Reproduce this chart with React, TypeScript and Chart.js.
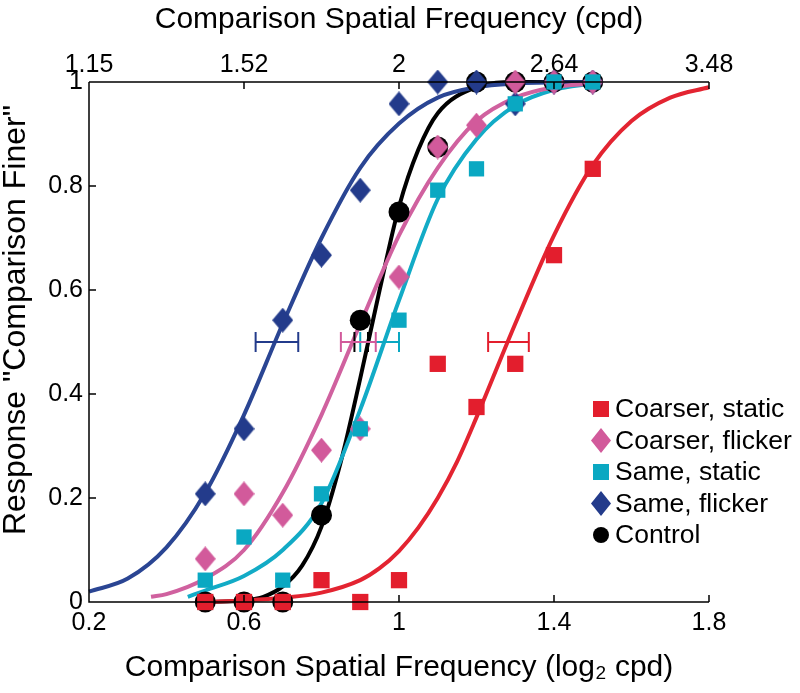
import React, { useEffect, useRef } from 'react';
import { Chart, registerables } from 'chart.js';

Chart.register(...registerables);

// comparison levels (log2 cpd)
const levels = [0.5, 0.6, 0.7, 0.8, 0.9, 1.0, 1.1, 1.2, 1.3, 1.4, 1.5];

// proportion "comparison finer" per condition
const coarserStatic = [0, 0, 0, 0.042, 0, 0.042, 0.458, 0.375, 0.458, 0.667, 0.833];
const coarserFlicker = [0.083, 0.208, 0.167, 0.292, 0.333, 0.625, 0.875, 0.917, 1, 1, 1];
const sameStatic = [0.042, 0.125, 0.042, 0.208, 0.333, 0.542, 0.792, 0.833, 0.958, 1, 1];
const sameFlicker = [0.208, 0.333, 0.542, 0.667, 0.792, 0.958, 1, 1, 0.958, 1, 1];
const control = [0, 0, 0, 0.167, 0.542, 0.75, 0.875, 1, 1, 1, 1];

// fitted psychometric curves
const coarserStaticFitX = [0.5, 0.6, 0.7, 0.8, 0.9, 0.95, 1.0, 1.05, 1.1, 1.15, 1.2, 1.3, 1.4, 1.5, 1.6, 1.7, 1.8];
const coarserStaticFitY = [0, 0.003, 0.008, 0.018, 0.042, 0.065, 0.098, 0.143, 0.2, 0.27, 0.355, 0.535, 0.705, 0.84, 0.925, 0.97, 0.99];
const coarserFlickerFitX = [0.36, 0.4, 0.5, 0.6, 0.7, 0.8, 0.9, 1.0, 1.1, 1.2, 1.3, 1.4, 1.5];
const coarserFlickerFitY = [0.01, 0.015, 0.045, 0.1, 0.21, 0.36, 0.535, 0.705, 0.835, 0.925, 0.97, 0.99, 0.997];
const sameStaticFitX = [0.455, 0.5, 0.6, 0.7, 0.8, 0.9, 1.0, 1.1, 1.2, 1.3, 1.4, 1.5];
const sameStaticFitY = [0.01, 0.022, 0.05, 0.1, 0.19, 0.37, 0.58, 0.775, 0.89, 0.955, 0.985, 0.997];
const sameFlickerFitX = [0.2, 0.3, 0.4, 0.5, 0.6, 0.7, 0.8, 0.9, 1.0, 1.1, 1.2, 1.3, 1.5];
const sameFlickerFitY = [0.02, 0.045, 0.105, 0.21, 0.36, 0.535, 0.7, 0.835, 0.92, 0.97, 0.99, 0.997, 1.0];
const controlFitX = [0.5, 0.6, 0.65, 0.7, 0.75, 0.8, 0.85, 0.9, 0.95, 1.0, 1.05, 1.1, 1.2, 1.3, 1.5];
const controlFitY = [0, 0.003, 0.01, 0.03, 0.07, 0.145, 0.27, 0.43, 0.6, 0.76, 0.87, 0.94, 0.99, 1.0, 1.0];

// 50% thresholds with confidence intervals (same order as the legend)
const thresholdLevel = 0.5;
const thresholdLo = [1.23, 0.85, 0.9, 0.63, 0.885];
const thresholdHi = [1.335, 0.94, 1.0, 0.74, 0.92];

// axes
const xTickValues = [0.2, 0.6, 1.0, 1.4, 1.8];
const xTickLabels = ['0.2', '0.6', '1', '1.4', '1.8'];
const topTickLabels = ['1.15', '1.52', '2', '2.64', '3.48'];
const yTickValues = [0, 0.2, 0.4, 0.6, 0.8, 1];
const yTickLabels = ['0', '0.2', '0.4', '0.6', '0.8', '1'];
const yTitle = 'Response "Comparison Finer"';

const seriesNames = ['Coarser, static', 'Coarser, flicker', 'Same, static', 'Same, flicker', 'Control'];
const seriesColors = ['#e31e2d', '#d25a9b', '#0aa8c2', '#233b8b', '#000000'];
const curveColors = ['#e32431', '#d0619f', '#12abc6', '#2a4593', '#000000'];
const seriesShapes = ['square', 'diamond', 'square', 'diamond', 'circle'];

const FONT = "'Liberation Sans', Arial, Helvetica, sans-serif";

function makeDiamond(color: string, w: number, h: number) {
  const c = document.createElement('canvas');
  c.width = w;
  c.height = h;
  const g = c.getContext('2d')!;
  g.fillStyle = color;
  g.beginPath();
  g.moveTo(w / 2, 0);
  g.lineTo(w, h / 2);
  g.lineTo(w / 2, h);
  g.lineTo(0, h / 2);
  g.closePath();
  g.fill();
  return c;
}

// matlab style box: axis lines and inward ticks drawn over the markers
const axesPlugin = {
  id: 'matlabAxes',
  afterDatasetsDraw(chart: any) {
    const { ctx, chartArea: a, scales } = chart;
    const len = 7;
    ctx.save();
    ctx.strokeStyle = '#000';
    ctx.lineWidth = 1.5;
    ctx.beginPath();
    ctx.moveTo(a.left, a.top);
    ctx.lineTo(a.left, a.bottom);
    ctx.lineTo(a.right, a.bottom);
    ctx.moveTo(a.left, a.top);
    ctx.lineTo(a.right, a.top);
    scales.x.ticks.forEach((t: any) => {
      const px = scales.x.getPixelForValue(t.value);
      ctx.moveTo(px, a.bottom);
      ctx.lineTo(px, a.bottom - len);
    });
    scales.xTop.ticks.forEach((t: any) => {
      const px = scales.xTop.getPixelForValue(t.value);
      ctx.moveTo(px, a.top);
      ctx.lineTo(px, a.top + len);
    });
    scales.y.ticks.forEach((t: any) => {
      const py = scales.y.getPixelForValue(t.value);
      ctx.moveTo(a.left, py);
      ctx.lineTo(a.left + len, py);
    });
    ctx.stroke();

    // y title sits a little above the axis centre in the original
    ctx.translate(16, (a.top + a.bottom) / 2 - 22);
    ctx.rotate(-Math.PI / 2);
    ctx.fillStyle = '#000';
    ctx.font = `32px ${FONT}`;
    ctx.textAlign = 'center';
    ctx.textBaseline = 'middle';
    ctx.fillText(yTitle, 0, 0);
    ctx.restore();
  },
};

const LegendMarker: React.FC<{ shape: string; color: string }> = ({ shape, color }) => {
  if (shape === 'diamond') {
    return (
      <svg width={20} height={25} style={{ display: 'block' }}>
        <polygon points="10,0 20,12.5 10,25 0,12.5" fill={color} />
      </svg>
    );
  }
  if (shape === 'circle') {
    return <div style={{ width: 16, height: 16, borderRadius: 8, background: color }} />;
  }
  return <div style={{ width: 16, height: 16, background: color }} />;
};

export default function App() {
  const canvasRef = useRef<HTMLCanvasElement | null>(null);

  useEffect(() => {
    if (!canvasRef.current) return;

    const pts = (ys: number[]) => levels.map((x, i) => ({ x, y: ys[i] }));
    const curve = (xs: number[], ys: number[]) => xs.map((x, i) => ({ x, y: ys[i] }));

    const values = [coarserStatic, coarserFlicker, sameStatic, sameFlicker, control];
    const fits = [
      [coarserStaticFitX, coarserStaticFitY],
      [coarserFlickerFitX, coarserFlickerFitY],
      [sameStaticFitX, sameStaticFitY],
      [sameFlickerFitX, sameFlickerFitY],
      [controlFitX, controlFitY],
    ];
    const squareRadius = [11.5, 0, 10.8, 0, 0];
    const markerOrder = [1, 3, 2, 4, 5];

    const markerSets = values.map((v, i) => {
      const shape = seriesShapes[i];
      const style =
        shape === 'diamond' ? makeDiamond(seriesColors[i], 21, 25) : shape === 'circle' ? 'circle' : 'rect';
      return {
        label: seriesNames[i],
        data: pts(v),
        xAxisID: 'x',
        yAxisID: 'y',
        showLine: false,
        pointStyle: style,
        pointRadius: shape === 'circle' ? 10.5 : shape === 'square' ? squareRadius[i] : 12,
        pointBackgroundColor: seriesColors[i],
        pointBorderWidth: 0,
        pointBorderColor: seriesColors[i],
        clip: false,
        order: markerOrder[i],
      };
    });

    const errorSets = thresholdLo.map((lo, i) => ({
      label: seriesNames[i] + ' threshold',
      data: [
        { x: lo, y: thresholdLevel },
        { x: thresholdHi[i], y: thresholdLevel },
      ],
      xAxisID: 'x',
      yAxisID: 'y',
      showLine: true,
      borderColor: seriesColors[i],
      borderWidth: 2,
      pointStyle: 'line',
      pointRotation: 90,
      pointRadius: 10,
      pointBorderWidth: 2,
      pointBorderColor: seriesColors[i],
      clip: false,
      order: 8,
    }));

    const curveSets = fits.map(([xs, ys], i) => ({
      label: seriesNames[i] + ' fit',
      data: curve(xs, ys),
      xAxisID: 'x',
      yAxisID: 'y',
      showLine: true,
      borderColor: curveColors[i],
      borderWidth: 4,
      pointRadius: 0,
      cubicInterpolationMode: 'monotone',
      fill: false,
      clip: false,
      order: 10,
    }));

    const tickFont = { family: FONT, size: 25 };
    const titleFont = { family: FONT, size: 30, lineHeight: 1.2 };

    const chart = new Chart(canvasRef.current, {
      type: 'scatter',
      data: { datasets: [...markerSets, ...errorSets, ...curveSets] as any },
      options: {
        responsive: false,
        animation: false,
        events: [],
        layout: { padding: { left: 0, top: 0, right: 91, bottom: 0 } },
        plugins: { legend: { display: false }, tooltip: { enabled: false } },
        scales: {
          x: {
            type: 'linear',
            position: 'bottom',
            min: 0.2,
            max: 1.8,
            afterBuildTicks: (s: any) => {
              s.ticks = xTickValues.map((value) => ({ value }));
            },
            afterFit: (s: any) => {
              s.height = 91;
            },
            grid: { display: false, drawTicks: false },
            border: { display: false },
            ticks: {
              color: '#000',
              font: tickFont,
              padding: 6,
              maxRotation: 0,
              callback: (_v: any, i: number) => xTickLabels[i],
            },
            title: {
              display: true,
              text: 'Comparison Spatial Frequency (log₂ cpd)',
              color: '#000',
              font: titleFont,
              padding: { top: 0, bottom: 7 },
            },
          },
          xTop: {
            type: 'linear',
            position: 'top',
            min: 0.2,
            max: 1.8,
            afterBuildTicks: (s: any) => {
              s.ticks = xTickValues.map((value) => ({ value }));
            },
            afterFit: (s: any) => {
              s.height = 82;
            },
            grid: { display: false, drawTicks: false },
            border: { display: false },
            ticks: {
              color: '#000',
              font: tickFont,
              padding: 2,
              maxRotation: 0,
              callback: (_v: any, i: number) => topTickLabels[i],
            },
            title: {
              display: true,
              text: 'Comparison Spatial Frequency (cpd)',
              color: '#000',
              font: titleFont,
              padding: { top: 2, bottom: 0 },
            },
          },
          y: {
            type: 'linear',
            position: 'left',
            min: 0,
            max: 1,
            afterBuildTicks: (s: any) => {
              s.ticks = yTickValues.map((value) => ({ value }));
            },
            afterFit: (s: any) => {
              s.width = 89;
            },
            grid: { display: false, drawTicks: false },
            border: { display: false },
            ticks: {
              color: '#000',
              font: tickFont,
              padding: 6,
              callback: (_v: any, i: number) => yTickLabels[i],
            },
            title: { display: false },
          },
        },
      } as any,
      plugins: [axesPlugin],
    });

    return () => chart.destroy();
  }, []);

  return (
    <div style={{ position: 'absolute', left: 0, top: 0, width: 800, height: 693, background: '#fff' }}>
      <canvas ref={canvasRef} width={800} height={693} style={{ display: 'block' }} />
      <div style={{ position: 'absolute', left: 589, top: 393, fontFamily: FONT, fontSize: 26.5, color: '#000' }}>
        {seriesNames.map((name, i) => (
          <div key={name} style={{ display: 'flex', alignItems: 'center', height: 31.5, whiteSpace: 'nowrap' }}>
            <div style={{ width: 24, display: 'flex', justifyContent: 'center' }}>
              <LegendMarker shape={seriesShapes[i]} color={seriesColors[i]} />
            </div>
            <span style={{ marginLeft: 2, lineHeight: '31.5px' }}>{name}</span>
          </div>
        ))}
      </div>
    </div>
  );
}
